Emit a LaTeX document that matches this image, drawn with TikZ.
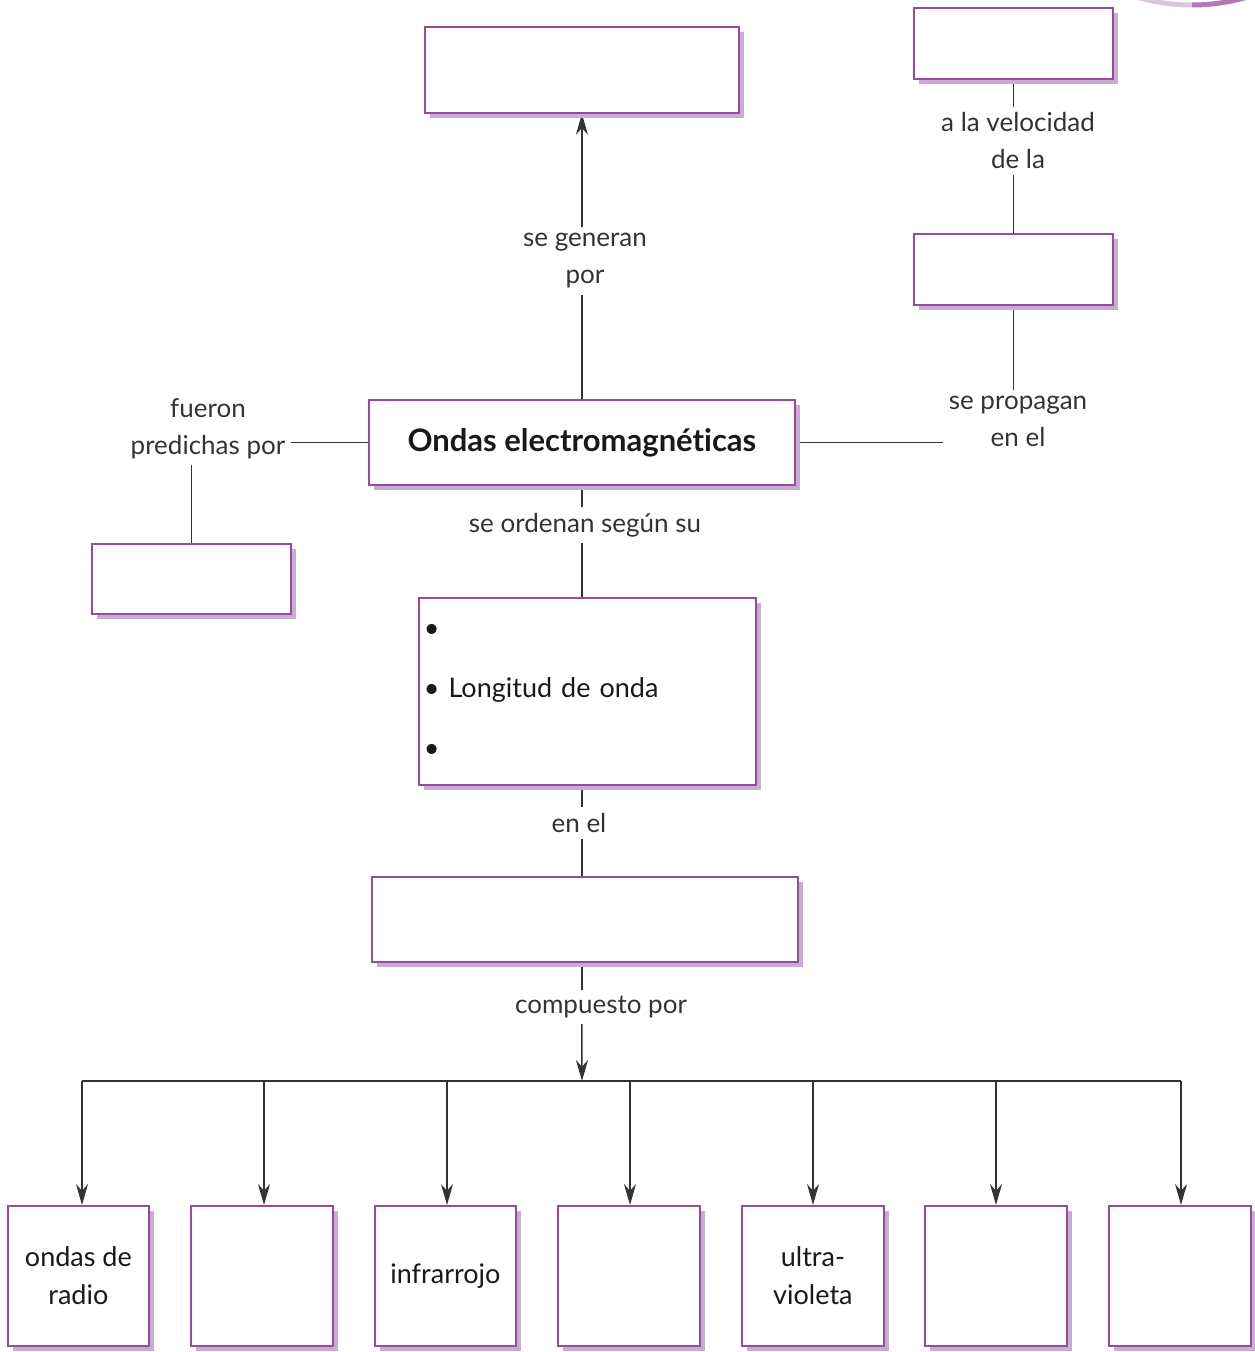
\documentclass[tikz,border=0pt]{standalone}
\usepackage{fontspec}
\setmainfont{Lato}
\usetikzlibrary{arrows.meta,shadows,backgrounds}
\definecolor{boxc}{HTML}{9A4A9E}
\definecolor{shadc}{HTML}{C8ADD2}
\definecolor{linec}{HTML}{333333}
\begin{document}
\begin{tikzpicture}[x=1pt,y=-1pt,
 box/.style={draw=boxc, line width=1.8pt, fill=white, inner sep=0pt, anchor=north west,
   drop shadow={fill=shadc, opacity=1, shadow xshift=5pt, shadow yshift=-5pt},
   font=\fontsize{27}{38}\selectfont, align=center, text=black!90},
 lbl/.style={font=\fontsize{26}{37}\selectfont, align=center, text=black!80, inner sep=6pt},
 conn/.style={draw=linec, line width=1.5pt},
 arr/.style={conn, -{Stealth[length=21pt,width=12pt]}}
]
\useasboundingbox (0,0) rectangle (1255,1352);
% decorative ring at the corner
\begin{scope}
  \clip (0,0) rectangle (1192,30);
  \draw[line width=5pt, color=shadc!70] (1192,-190) circle (195);
\end{scope}
\begin{scope}
  \clip (1192,0) rectangle (1255,30);
  \draw[line width=5pt, color=boxc!75] (1192,-190) circle (195);
\end{scope}

% boxes
\node[box, minimum width=314, minimum height=86] (A) at (424,26) {};
\node[box, minimum width=199, minimum height=71] (B) at (913,7) {};
\node[box, minimum width=199, minimum height=71] (C) at (913,233) {};
\node[box, minimum width=426, minimum height=85, font=\addfontfeatures{Ligatures=NoCommon}\fontsize{31}{34}\bfseries] (main) at (368,399) {Ondas electromagnéticas};
\node[box, minimum width=199, minimum height=70] (D) at (91,543) {};
\node[box, minimum width=337, minimum height=187, align=left, text width=327pt, inner xsep=5pt,
  font=\fontsize{27}{60}\selectfont] (E) at (418,597) {•\\• Longitud de onda\\•};
\node[box, minimum width=426, minimum height=85] (F) at (371,876) {};

\node[box, minimum width=141, minimum height=140] (b1) at (7,1205) {ondas de\\radio};
\node[box, minimum width=142, minimum height=140] (b2) at (190,1205) {};
\node[box, minimum width=141, minimum height=140] (b3) at (374,1205) {infrarrojo};
\node[box, minimum width=142, minimum height=140] (b4) at (557,1205) {};
\node[box, minimum width=142, minimum height=140] (b5) at (741,1205) {ultra-\\violeta};
\node[box, minimum width=142, minimum height=140] (b6) at (924,1205) {};
\node[box, minimum width=142, minimum height=140] (b7) at (1108,1205) {};

% labels
\node[lbl] (lvel) at (1018,141) {a la velocidad\\de la};
\node[lbl] (lprop) at (1018,421) {se propagan\\en el};
\node[lbl] (lpred) at (208,429) {fueron\\predichas por};
\node[lbl] (lgen) at (585,261) {se generan\\por};
\node[lbl] (lord) at (585,525) {se ordenan según su};
\node[lbl] (len) at (579,823) {en el};
\node[lbl] (lcomp) at (601,1007) {compuesto por};

\coordinate (hub) at (582,1081);
\coordinate (t1) at (82,1081);
\coordinate (t2) at (264,1081);
\coordinate (t3) at (447,1081);
\coordinate (t4) at (630,1081);
\coordinate (t5) at (813,1081);
\coordinate (t6) at (996,1081);
\coordinate (t7) at (1181,1081);

\begin{pgfonlayer}{background}
\draw[conn] (main.north) -- (main.north |- lgen.south);
\draw[arr] (A.south |- lgen.north) -- (A.south);
\draw[conn] (B.south) -- (B.south |- lvel.north);
\draw[conn] (C.north |- lvel.south) -- (C.north);
\draw[conn] (C.south) -- (C.south |- lprop.north);
\draw[conn] (main.east) -- (main.east -| lprop.west);
\draw[conn] (main.west) -- (main.west -| lpred.east);
\draw[conn] (D.north |- lpred.south) -- (D.north);
\draw[conn] (main.south) -- (main.south |- lord.north);
\draw[conn] (main.south |- lord.south) -- (main.south |- E.north);
\draw[conn] (main.south |- E.south) -- (main.south |- len.north);
\draw[conn] (main.south |- len.south) -- (main.south |- F.north);
\draw[conn] (main.south |- F.south) -- (main.south |- lcomp.north);
\draw[arr] (main.south |- lcomp.south) -- (hub);
\draw[conn] (t1) -- (t7);
\foreach \i in {1,...,7} {
  \draw[arr] (t\i) -- (t\i |- b\i.north);
}
\end{pgfonlayer}
\end{tikzpicture}
\end{document}
